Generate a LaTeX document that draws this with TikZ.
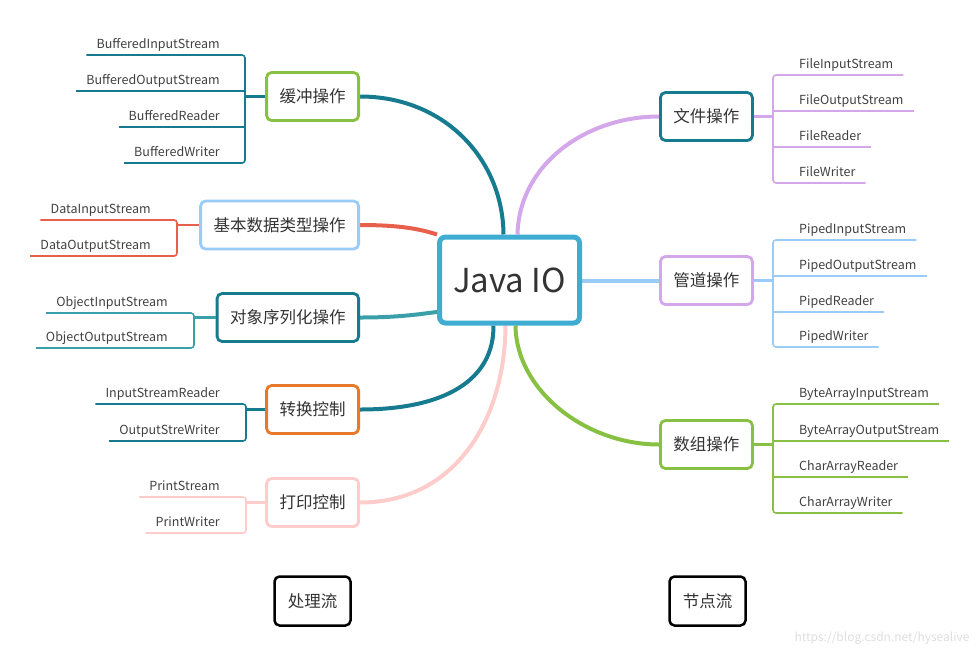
\documentclass[tikz,border=0pt]{standalone}
\usepackage{fontspec}
\setmainfont{Noto Sans CJK SC}
\usepackage{xcolor}
\usetikzlibrary{positioning,shapes,calc,backgrounds}

\definecolor{tealdark}{HTML}{177B90}
\definecolor{tealmid}{HTML}{3A9FA9}
\definecolor{coral}{HTML}{E8604C}
\definecolor{skyblue}{HTML}{9ACCFA}
\definecolor{leafgreen}{HTML}{88C043}
\definecolor{orangeish}{HTML}{E8792A}
\definecolor{pinkish}{HTML}{FECCCB}
\definecolor{lilac}{HTML}{D4A6EA}
\definecolor{hubblue}{HTML}{3FACD2}

\tikzset{
  hub/.style={draw=hubblue, line width=5pt, rounded corners=6pt, fill=white,
    minimum width=140pt, minimum height=86pt, text=black!80,
    font=\fontsize{33}{36}\selectfont},
  topic/.style={draw=#1, line width=2.8pt, rounded corners=5pt, fill=white,
    minimum height=48pt, inner xsep=13pt, text=black!80,
    font=\fontsize{16.5}{18}\selectfont},
  tag/.style={draw=black, line width=2.5pt, rounded corners=5pt, fill=white,
    minimum width=76pt, minimum height=49pt, text=black!80,
    font=\fontsize{16.5}{18}\selectfont},
  leaf/.style={font=\fontsize{12.5}{14}\selectfont, text=black!75,
    inner xsep=10pt, inner ysep=4pt, text height=9.5pt, text depth=2.5pt},
  limb/.style={draw=#1, line width=4pt},
  stub/.style={draw=#1, line width=2.5pt},
  twig/.style={draw=#1, line width=1.6pt, rounded corners=3pt},
}

\begin{document}
\begin{tikzpicture}[x=1pt,y=-1pt]
    \useasboundingbox (0,0) rectangle (980,657);

    \node[hub] (java) at (509.5,280) {Java IO};

    % left topics
    \node[topic=leafgreen, anchor=east] (buf) at (360,96.5) {缓冲操作};
    \node[topic=skyblue, anchor=east] (data) at (360,225) {基本数据类型操作};
    \node[topic=tealdark, anchor=east] (obj) at (360,317.5) {对象序列化操作};
    \node[topic=orangeish, anchor=east] (conv) at (360,409.5) {转换控制};
    \node[topic=pinkish, anchor=east] (print) at (360,502.5) {打印控制};
    % right topics
    \node[topic=tealdark, anchor=west] (file) at (659,116.5) {文件操作};
    \node[topic=lilac, anchor=west] (pipe) at (659,280.5) {管道操作};
    \node[topic=leafgreen, anchor=west] (arr) at (659,444.5) {数组操作};

    \begin{scope}[on background layer]
        \draw[limb=tealdark] (buf.east) .. controls (445,96.5) and (503,160) .. ([xshift=-6pt]java.north);
        \draw[limb=coral] (data.east) .. controls (400,225) and (420,229) .. (java.north west);
        \draw[limb=tealmid] (obj.east) .. controls (400,317.5) and (420,314) .. ([yshift=-32pt]java.west);
        \draw[limb=tealdark] (conv.east) .. controls (445,409.5) and (494,380) .. ([xshift=-16pt]java.south);
        \draw[limb=pinkish] (print.east) .. controls (455,502.5) and (505,420) .. ([xshift=-4pt]java.south);
        \draw[limb=lilac] ([xshift=8pt]java.north) .. controls (519,165) and (585,116.5) .. (file.west);
        \draw[limb=skyblue] (java.east |- pipe.west) -- (pipe.west);
        \draw[limb=leafgreen] ([xshift=6pt]java.south) .. controls (516,390) and (585,444.5) .. (arr.west);
    \end{scope}

    % leaves, left
    \node[leaf, anchor=south east] (buf1) at (230,55) {BufferedInputStream};
    \node[leaf, anchor=south east] (buf2) at (230,91) {BufferedOutputStream};
    \node[leaf, anchor=south east] (buf3) at (230,127) {BufferedReader};
    \node[leaf, anchor=south east] (buf4) at (230,163) {BufferedWriter};
    \node[leaf, anchor=south east] (data1) at (161,220) {DataInputStream};
    \node[leaf, anchor=south east] (data2) at (161,256) {DataOutputStream};
    \node[leaf, anchor=south east] (obj1) at (178,313) {ObjectInputStream};
    \node[leaf, anchor=south east] (obj2) at (178,348) {ObjectOutputStream};
    \node[leaf, anchor=south east] (conv1) at (230,404) {InputStreamReader};
    \node[leaf, anchor=south east] (conv2) at (230,441) {OutputStreWriter};
    \node[leaf, anchor=south east] (print1) at (230,497) {PrintStream};
    \node[leaf, anchor=south east] (print2) at (230,533) {PrintWriter};
    % leaves, right
    \node[leaf, anchor=south west] (file1) at (789,75) {FileInputStream};
    \node[leaf, anchor=south west] (file2) at (789,111) {FileOutputStream};
    \node[leaf, anchor=south west] (file3) at (789,147) {FileReader};
    \node[leaf, anchor=south west] (file4) at (789,183) {FileWriter};
    \node[leaf, anchor=south west] (pipe1) at (789,240) {PipedInputStream};
    \node[leaf, anchor=south west] (pipe2) at (789,276) {PipedOutputStream};
    \node[leaf, anchor=south west] (pipe3) at (789,312) {PipedReader};
    \node[leaf, anchor=south west] (pipe4) at (789,347) {PipedWriter};
    \node[leaf, anchor=south west] (arr1) at (789,404) {ByteArrayInputStream};
    \node[leaf, anchor=south west] (arr2) at (789,441) {ByteArrayOutputStream};
    \node[leaf, anchor=south west] (arr3) at (789,477) {CharArrayReader};
    \node[leaf, anchor=south west] (arr4) at (789,513) {CharArrayWriter};

    \coordinate (bufv) at (245,0);
    \coordinate (datav) at (177,0);
    \coordinate (objv) at (194,0);
    \coordinate (convv) at (246,0);
    \coordinate (printv) at (246,0);
    \coordinate (filev) at (773,0);
    \coordinate (pipev) at (773,0);
    \coordinate (arrv) at (773,0);

    % brackets
    \draw[stub=tealdark] (buf.west) -- (bufv |- buf.west);
    \draw[twig=tealdark] (buf1.south west) -- (bufv |- buf1.south) -- (bufv |- buf4.south) -- (buf4.south west);
    \draw[twig=tealdark] (buf2.south west) -- (bufv |- buf2.south);
    \draw[twig=tealdark] (buf3.south west) -- (bufv |- buf3.south);

    \draw[stub=coral] (data.west) -- (datav |- data.west);
    \draw[twig=coral] (data1.south west) -- (datav |- data1.south) -- (datav |- data2.south) -- (data2.south west);

    \draw[stub=tealmid] (obj.west) -- (objv |- obj.west);
    \draw[twig=tealmid] (obj1.south west) -- (objv |- obj1.south) -- (objv |- obj2.south) -- (obj2.south west);

    \draw[stub=tealdark] (conv.west) -- (convv |- conv.west);
    \draw[twig=tealdark] (conv1.south west) -- (convv |- conv1.south) -- (convv |- conv2.south) -- (conv2.south west);

    \draw[stub=pinkish] (print.west) -- (printv |- print.west);
    \draw[twig=pinkish] (print1.south west) -- (printv |- print1.south) -- (printv |- print2.south) -- (print2.south west);

    \draw[stub=lilac] (file.east) -- (filev |- file.east);
    \draw[twig=lilac] (file1.south east) -- (filev |- file1.south) -- (filev |- file4.south) -- (file4.south east);
    \draw[twig=lilac] (file2.south east) -- (filev |- file2.south);
    \draw[twig=lilac] (file3.south east) -- (filev |- file3.south);

    \draw[stub=skyblue] (pipe.east) -- (pipev |- pipe.east);
    \draw[twig=skyblue] (pipe1.south east) -- (pipev |- pipe1.south) -- (pipev |- pipe4.south) -- (pipe4.south east);
    \draw[twig=skyblue] (pipe2.south east) -- (pipev |- pipe2.south);
    \draw[twig=skyblue] (pipe3.south east) -- (pipev |- pipe3.south);

    \draw[stub=leafgreen] (arr.east) -- (arrv |- arr.east);
    \draw[twig=leafgreen] (arr1.south east) -- (arrv |- arr1.south) -- (arrv |- arr4.south) -- (arr4.south east);
    \draw[twig=leafgreen] (arr2.south east) -- (arrv |- arr2.south);
    \draw[twig=leafgreen] (arr3.south east) -- (arrv |- arr3.south);

    % bottom tags
    \node[tag] (proc) at (312.5,601) {处理流};
    \node[tag] (nodes) at (707.5,601) {节点流};

    \node[font=\fontsize{12}{14}\selectfont, text=black!13, anchor=east] (credit) at (973,638) {https://blog.csdn.net/hysealive};
\end{tikzpicture}
\end{document}
